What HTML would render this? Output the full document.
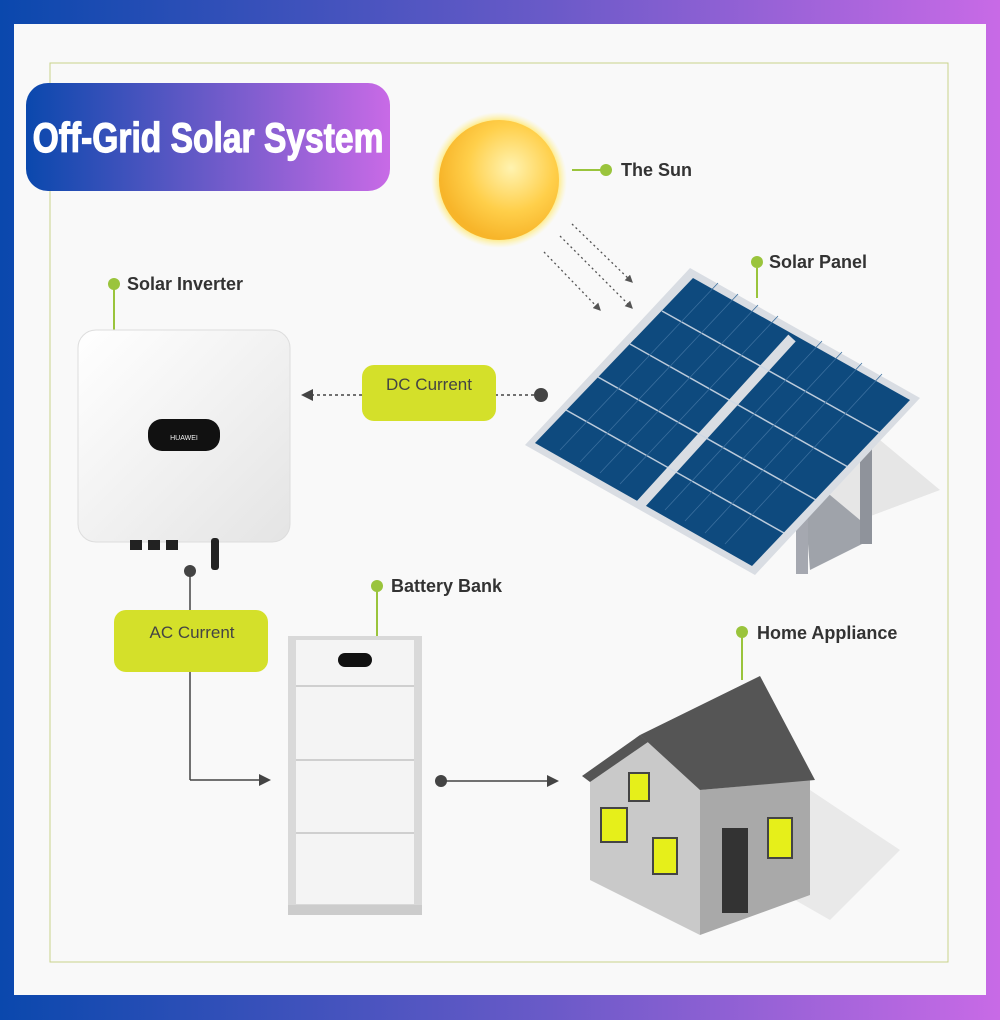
<!DOCTYPE html>
<html><head><meta charset="utf-8"><style>
body{margin:0;width:1000px;height:1020px;overflow:hidden;font-family:"Liberation Sans",sans-serif}
</style></head><body>
<svg width="1000" height="1020" viewBox="0 0 1000 1020" xmlns="http://www.w3.org/2000/svg">
<defs>
<linearGradient id="bg" x1="0" y1="0" x2="1" y2="0"><stop offset="0" stop-color="#0a48ad"/><stop offset="0.55" stop-color="#6a5ac8"/><stop offset="1" stop-color="#c86ae6"/></linearGradient>
<linearGradient id="tg" x1="0" y1="0" x2="1" y2="0"><stop offset="0" stop-color="#0a48ad"/><stop offset="0.5" stop-color="#6a5ac8"/><stop offset="1" stop-color="#c86ae6"/></linearGradient>
<radialGradient id="sun" cx="0.6" cy="0.4" r="0.6"><stop offset="0" stop-color="#fff3b0"/><stop offset="0.6" stop-color="#ffcf4a"/><stop offset="1" stop-color="#f7b52a"/></radialGradient>
<radialGradient id="glow" cx="0.5" cy="0.5" r="0.5"><stop offset="0.85" stop-color="#ffe66a"/><stop offset="1" stop-color="#fff3a0" stop-opacity="0"/></radialGradient>
<linearGradient id="inv" x1="0" y1="0" x2="1" y2="1"><stop offset="0" stop-color="#ffffff"/><stop offset="1" stop-color="#e4e4e4"/></linearGradient>
<marker id="ar" markerWidth="8" markerHeight="8" refX="6" refY="4" orient="auto"><path d="M0,0 L8,4 L0,8 z" fill="#444"/></marker>
<marker id="ar2" markerWidth="6" markerHeight="6" refX="5" refY="3" orient="auto"><path d="M0,0 L6,3 L0,6 z" fill="#555"/></marker>
</defs>
<rect width="1000" height="1020" fill="url(#bg)"/>
<rect x="14" y="24" width="972" height="971" fill="#f9f9f9"/>
<rect x="50" y="63" width="898" height="899" fill="none" stroke="#c9d38b" stroke-width="1"/>
<!-- title -->
<rect x="26" y="83" width="364" height="108" rx="22" fill="url(#tg)"/>
<text x="208" y="152" text-anchor="middle" font-family="Liberation Sans Narrow, Liberation Sans, sans-serif" font-weight="bold" font-size="42" fill="#fff" stroke="#fff" stroke-width="1.2" transform="translate(208 0) scale(0.8 1) translate(-208 0)">Off-Grid Solar System</text>
<!-- sun -->
<circle cx="499" cy="180" r="68" fill="url(#glow)"/>
<circle cx="499" cy="180" r="60" fill="url(#sun)"/>
<line x1="572" y1="170" x2="604" y2="170" stroke="#9ac43c" stroke-width="2"/>
<circle cx="606" cy="170" r="6" fill="#9ac43c"/>
<text x="621" y="176" font-size="18" font-weight="bold" fill="#333">The Sun</text>
<!-- rays -->
<g stroke="#555" stroke-width="1.3" stroke-dasharray="2,3" fill="none" marker-end="url(#ar2)">
<line x1="572" y1="224" x2="632" y2="282"/><line x1="560" y1="236" x2="632" y2="308"/><line x1="544" y1="252" x2="600" y2="310"/>
</g>
<!-- solar panel -->
<polygon points="800,440 860,455 870,540 810,570" fill="#9fa3aa"/>
<polygon points="800,470 880,440 940,490 860,520" fill="#e6e6e6"/>
<rect x="796" y="470" width="12" height="104" fill="#a5a8b0"/>
<rect x="860" y="440" width="12" height="104" fill="#8f939b"/>
<polygon points="525,445 690,268 920,398 755,575" fill="#d9dde3"/>
<polygon points="535,443 693,278 910,400 752,566" fill="#0e4a7e"/>
<line x1="792" y1="338" x2="640" y2="505" stroke="#d9dde3" stroke-width="10"/>
<g stroke="#cfd9e6" stroke-width="1.5" opacity="0.9">
<line x1="566" y1="410" x2="784" y2="533"/><line x1="598" y1="377" x2="816" y2="500"/><line x1="630" y1="344" x2="848" y2="467"/><line x1="662" y1="311" x2="880" y2="433"/>
</g>
<g stroke="#3b6f9e" stroke-width="0.8">
<line x1="560" y1="450" x2="718" y2="283"/><line x1="580" y1="462" x2="738" y2="294"/><line x1="600" y1="473" x2="758" y2="305"/><line x1="620" y1="484" x2="778" y2="316"/><line x1="665" y1="510" x2="822" y2="341"/><line x1="685" y1="521" x2="842" y2="352"/><line x1="705" y1="533" x2="862" y2="363"/><line x1="725" y1="544" x2="882" y2="374"/>
</g>
<line x1="757" y1="298" x2="757" y2="268" stroke="#9ac43c" stroke-width="2"/>
<circle cx="757" cy="262" r="6" fill="#9ac43c"/>
<text x="769" y="268" font-size="18" font-weight="bold" fill="#333">Solar Panel</text>
<!-- DC current -->
<line x1="540" y1="395" x2="496" y2="395" stroke="#444" stroke-width="1.5" stroke-dasharray="3,3"/>
<circle cx="541" cy="395" r="7" fill="#444"/>
<rect x="362" y="365" width="134" height="56" rx="12" fill="#d4e02a"/>
<text x="429" y="390" text-anchor="middle" font-size="17" fill="#444">DC Current</text>
<line x1="362" y1="395" x2="304" y2="395" stroke="#444" stroke-width="1.5" stroke-dasharray="3,3" marker-end="url(#ar)"/>
<!-- inverter -->
<line x1="114" y1="284" x2="114" y2="330" stroke="#9ac43c" stroke-width="2"/>
<circle cx="114" cy="284" r="6" fill="#9ac43c"/>
<text x="127" y="290" font-size="18" font-weight="bold" fill="#333">Solar Inverter</text>
<rect x="78" y="330" width="212" height="212" rx="18" fill="url(#inv)" stroke="#ddd"/>
<rect x="148" y="419" width="72" height="32" rx="14" fill="#111"/>
<text x="184" y="440" text-anchor="middle" font-size="7" fill="#eee">HUAWEI</text>
<rect x="130" y="540" width="12" height="10" fill="#222"/><rect x="148" y="540" width="12" height="10" fill="#222"/><rect x="166" y="540" width="12" height="10" fill="#222"/>
<rect x="211" y="538" width="8" height="32" rx="3" fill="#222"/>
<!-- AC current -->
<circle cx="190" cy="571" r="6" fill="#444"/>
<line x1="190" y1="571" x2="190" y2="780" stroke="#444" stroke-width="1.5"/>
<line x1="190" y1="780" x2="268" y2="780" stroke="#444" stroke-width="1.5" marker-end="url(#ar)"/>
<rect x="114" y="610" width="154" height="62" rx="12" fill="#d4e02a"/>
<text x="192" y="638" text-anchor="middle" font-size="17" fill="#444">AC Current</text>
<!-- battery -->
<line x1="377" y1="586" x2="377" y2="636" stroke="#9ac43c" stroke-width="2"/>
<circle cx="377" cy="586" r="6" fill="#9ac43c"/>
<text x="391" y="592" font-size="18" font-weight="bold" fill="#333">Battery Bank</text>
<rect x="288" y="636" width="134" height="272" fill="#d9d9d9"/>
<rect x="296" y="640" width="118" height="264" fill="#f4f4f4"/>
<g stroke="#cfcfcf" stroke-width="2"><line x1="296" y1="686" x2="414" y2="686"/><line x1="296" y1="760" x2="414" y2="760"/><line x1="296" y1="833" x2="414" y2="833"/></g>
<rect x="338" y="653" width="34" height="14" rx="7" fill="#111"/>
<rect x="288" y="905" width="134" height="10" fill="#ccc"/>
<!-- arrow to house -->
<circle cx="441" cy="781" r="6" fill="#444"/>
<line x1="441" y1="781" x2="556" y2="781" stroke="#444" stroke-width="1.5" marker-end="url(#ar)"/>
<!-- house -->
<line x1="742" y1="632" x2="742" y2="680" stroke="#9ac43c" stroke-width="2"/>
<circle cx="742" cy="632" r="6" fill="#9ac43c"/>
<text x="757" y="639" font-size="18" font-weight="bold" fill="#333">Home Appliance</text>
<polygon points="810,790 900,850 830,920 760,880" fill="#e9e9e9"/>
<polygon points="590,775 640,735 700,770 700,935 590,880" fill="#c9c9c9"/>
<polygon points="700,790 810,780 810,895 700,935" fill="#a9a9a9"/>
<polygon points="582,776 640,735 648,742 590,782" fill="#555"/>
<polygon points="640,735 760,676 815,780 700,790" fill="#555"/>
<rect x="722" y="828" width="26" height="85" fill="#333"/>
<g fill="#e6ef1a" stroke="#444" stroke-width="2">
<rect x="629" y="773" width="20" height="28"/><rect x="601" y="808" width="26" height="34"/><rect x="653" y="838" width="24" height="36"/><rect x="768" y="818" width="24" height="40"/>
</g>
</svg>
</body></html>
